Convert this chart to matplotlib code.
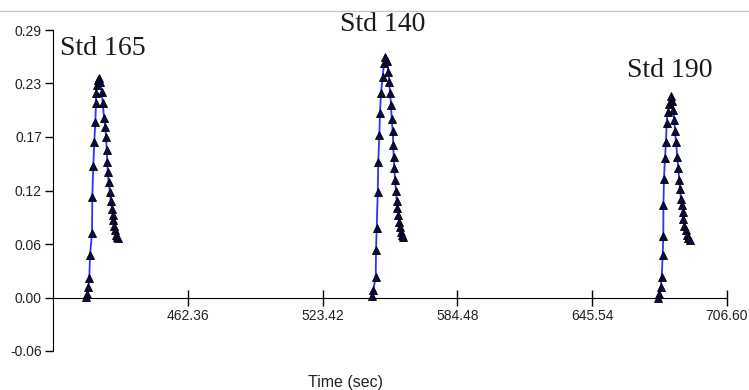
import numpy as np
import matplotlib
matplotlib.use("Agg")
import matplotlib.pyplot as plt
from matplotlib.lines import Line2D

# peak 1 (Std 165)
t1 = [416.25, 416.84, 417.29, 417.74, 418.06, 418.97, 419.10, 419.55, 420.01, 420.46,
      420.78, 420.78, 421.09, 421.55, 422.00,
      422.59, 423.36, 423.81, 424.40, 424.99, 425.31, 425.62, 425.90, 426.08, 426.53,
      427.12, 427.44, 428.02, 428.34, 428.61, 429.07, 429.38, 429.84, 430.42, 430.88]
v1 = [0.001, 0.004, 0.011, 0.021, 0.046, 0.070, 0.109, 0.143, 0.169, 0.190,
      0.211, 0.222, 0.230, 0.236, 0.238,
      0.234, 0.223, 0.211, 0.195, 0.185, 0.174, 0.160, 0.147, 0.136, 0.125,
      0.114, 0.105, 0.096, 0.089, 0.084, 0.078, 0.073, 0.068, 0.066, 0.064]

# peak 2 (Std 140)
t2 = [545.66, 546.38, 547.47, 547.61, 547.93, 548.38, 548.65, 549.10, 549.42, 549.87,
      550.64, 551.23, 551.68,
      552.45, 553.18, 553.63, 553.95, 554.40, 554.72, 555.17, 555.44, 555.60, 555.90,
      556.21, 556.66, 556.98, 557.25, 557.71, 558.16, 558.48, 558.93, 559.38, 559.97]
v2 = [0.002, 0.008, 0.022, 0.051, 0.075, 0.114, 0.147, 0.176, 0.200, 0.222,
      0.239, 0.254, 0.261,
      0.256, 0.245, 0.234, 0.222, 0.209, 0.194, 0.180, 0.165, 0.152, 0.140,
      0.127, 0.116, 0.105, 0.097, 0.089, 0.082, 0.076, 0.071, 0.068, 0.066]

# peak 3 (Std 190)
t3 = [675.47, 675.92, 676.56, 677.01, 677.46, 677.74, 677.80, 678.05, 678.50, 678.96,
      679.27, 679.73, 680.45, 681.09,
      681.81, 682.26, 682.72, 683.03, 683.49, 684.08, 684.53, 684.98, 685.30, 685.75,
      686.07, 686.52, 686.79, 687.25, 687.88, 688.33, 689.06, 689.83]
v3 = [0.000, 0.004, 0.011, 0.022, 0.046, 0.067, 0.100, 0.129, 0.151, 0.169,
      0.189, 0.201, 0.210, 0.218,
      0.213, 0.203, 0.192, 0.180, 0.169, 0.152, 0.140, 0.127, 0.118, 0.107,
      0.100, 0.093, 0.085, 0.078, 0.073, 0.068, 0.065, 0.062]

labels = ["Std 165", "Std 140", "Std 190"]
label_pos = [(404.5, 0.270), (531.3, 0.2955), (661.3, 0.2465)]

xticks = [462.36, 523.42, 584.48, 645.54, 706.60]
yticks = [-0.058, 0.0, 0.058, 0.116, 0.174, 0.232, 0.29]
yticklabels = ["-0.06", "0.00", "0.06", "0.12", "0.17", "0.23", "0.29"]

fig = plt.figure(figsize=(7.49, 3.90), dpi=100)
ax = fig.add_axes([53/749, 1 - 351/390, (727 - 53)/749, (351 - 30)/390])

for t, v in [(t1, v1), (t2, v2), (t3, v3)]:
    ax.plot(t, v, color="#3030ff", lw=1.3, marker="^", ms=5.5,
            mfc="#0a0a40", mec="black", mew=0.6, zorder=3)

for txt, (x, y) in zip(labels, label_pos):
    ax.text(x, y, txt, fontsize=20, family="Liberation Serif", color="#1a1a1a",
            ha="left", va="center", clip_on=False)

ax.set_xlim(401.30, 706.60)
ax.set_ylim(-0.058, 0.29)
ax.spines["top"].set_visible(False)
ax.spines["right"].set_visible(False)
ax.spines["bottom"].set_position(("data", 0))
ax.spines["left"].set_color("black")
ax.spines["bottom"].set_color("black")

ax.set_xticks(xticks)
ax.set_xticklabels(["%.2f" % x for x in xticks])
ax.set_yticks(yticks)
ax.set_yticklabels(yticklabels)
ax.tick_params(axis="x", direction="inout", length=11, width=1, pad=3,
               labelsize=10, labelcolor="#222222")
ax.tick_params(axis="y", direction="out", length=6, width=1, pad=2,
               labelsize=10, labelcolor="#222222")
for lab in ax.get_xticklabels() + ax.get_yticklabels():
    lab.set_family("Liberation Sans")

fig.text(346/749, 1 - 382/390, "Time (sec)", fontsize=11.5, family="Liberation Sans",
         color="#222222", ha="center", va="center")

# thin grey rule at the top
fig.add_artist(Line2D([0, 1], [1 - 11/390, 1 - 11/390], color="#c8c8c8", lw=1,
                      transform=fig.transFigure))

fig.savefig("out.png", dpi=100)
